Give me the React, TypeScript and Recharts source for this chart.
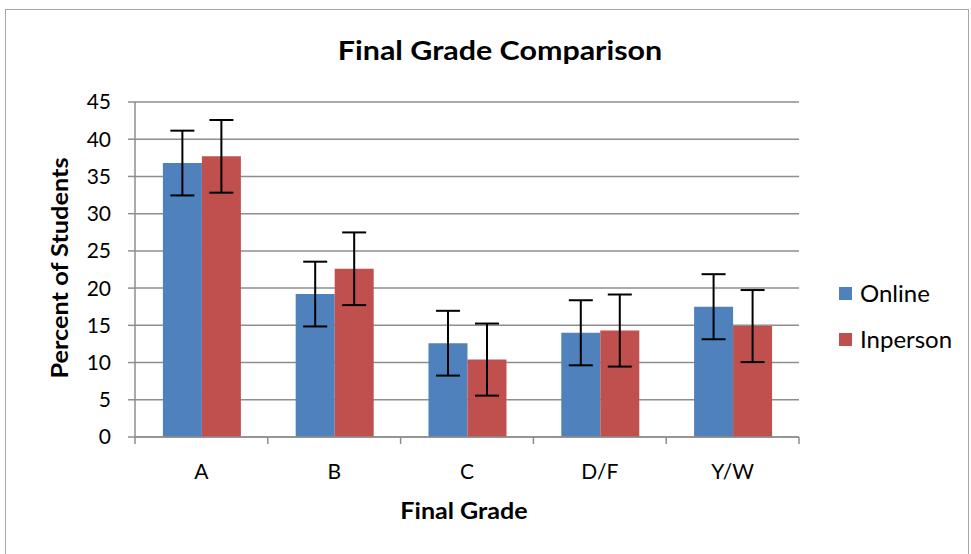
import React from "react";
import { BarChart, Bar, XAxis, YAxis, CartesianGrid, ErrorBar } from "recharts";

// Final grade distribution, percent of students
const categories = ["A", "B", "C", "D/F", "Y/W"];
const online = [36.8, 19.2, 12.6, 14.0, 17.5];
const inperson = [37.7, 22.6, 10.4, 14.3, 14.9];
const onlineErr = [4.35, 4.35, 4.35, 4.37, 4.37];
const inpersonErr = [4.88, 4.88, 4.84, 4.84, 4.84];
const yTicks = [0, 5, 10, 15, 20, 25, 30, 35, 40, 45];

const BLUE = "#4F81BD";
const RED = "#C0504D";
const GRID = "#8E8E8E";
const FONT = "Lato, 'Open Sans', sans-serif";

const series = [
  { key: "online", name: "Online", color: BLUE, err: "onlineErr" },
  { key: "inperson", name: "Inperson", color: RED, err: "inpersonErr" },
];

const data = categories.map((grade, i) => ({
  grade,
  online: online[i],
  inperson: inperson[i],
  onlineErr: onlineErr[i],
  inpersonErr: inpersonErr[i],
}));

const centered = (left: number, top: number, size: number, sx: number, rotate = 0): React.CSSProperties => ({
  position: "absolute",
  left,
  top,
  transform: `translate(-50%, -50%) rotate(${rotate}deg) scaleX(${sx})`,
  whiteSpace: "nowrap",
  fontFamily: FONT,
  fontWeight: 700,
  fontSize: size,
  color: "#000",
  lineHeight: 1,
});

// category label plus Excel-style tick marks on the band edges
const GradeTick = (props: any) => {
  const { x, y, payload, index, visibleTicksCount } = props;
  const half = payload?.offset ?? 0;
  const axisY = y - 27;
  const last = index === (visibleTicksCount ?? categories.length) - 1;
  return (
    <g>
      {half > 0 && (
        <line x1={x - half} x2={x - half} y1={axisY} y2={axisY + 7} stroke={GRID} strokeWidth={1.5} />
      )}
      {half > 0 && last && (
        <line x1={x + half} x2={x + half} y1={axisY} y2={axisY + 7} stroke={GRID} strokeWidth={1.5} />
      )}
      <text x={x} y={y} dy="0.71em" textAnchor="middle" fill="#000" fontSize={21} fontFamily={FONT}>
        {payload.value}
      </text>
    </g>
  );
};

export default function App() {
  return (
    <div
      style={{
        position: "absolute",
        left: 5,
        top: 9,
        width: 964,
        height: 550,
        border: "1.5px solid #A6A6A6",
        background: "#fff",
        boxSizing: "border-box",
      }}
    >
      <div style={centered(494, 40, 26, 1.17)}>Final Grade Comparison</div>
      <div style={centered(54, 258, 22, 1.15, -90)}>Percent of Students</div>
      <div style={centered(458, 501, 22, 1.14)}>Final Grade</div>

      <div style={{ position: "absolute", left: 833, top: 260, fontFamily: FONT, fontSize: 24, color: "#000" }}>
        {series.map((s) => (
          <div key={s.key} style={{ display: "flex", alignItems: "center", height: 46, lineHeight: 1 }}>
            <span style={{ width: 13, height: 13, background: s.color, marginRight: 8, display: "inline-block" }} />
            <span>{s.name}</span>
          </div>
        ))}
      </div>

      <BarChart
        width={964}
        height={546}
        data={data}
        margin={{ top: 93, right: 170, left: 0, bottom: 0 }}
        barCategoryGap="21%"
        barGap={0}
        style={{ position: "absolute", left: -1.5, top: -1.5 }}
      >
        <CartesianGrid vertical={false} stroke={GRID} strokeWidth={1.5} />
        <XAxis
          dataKey="grade"
          tickLine={false}
          axisLine={{ stroke: GRID, strokeWidth: 1.5 }}
          tick={<GradeTick />}
          tickSize={0}
          tickMargin={27}
          height={118}
          interval={0}
        />
        <YAxis
          domain={[0, 45]}
          ticks={yTicks}
          width={130}
          tickSize={7}
          tickMargin={17}
          tickLine={{ stroke: GRID, strokeWidth: 1.5 }}
          axisLine={{ stroke: GRID, strokeWidth: 1.5 }}
          tick={{ fill: "#000", fontSize: 21, fontFamily: FONT }}
          interval={0}
        />
        {series.map((s) => (
          <Bar key={s.key} dataKey={s.key} name={s.name} fill={s.color} isAnimationActive={false}>
            <ErrorBar dataKey={s.err} width={12} stroke="#000" strokeWidth={2} />
          </Bar>
        ))}
      </BarChart>
    </div>
  );
}
